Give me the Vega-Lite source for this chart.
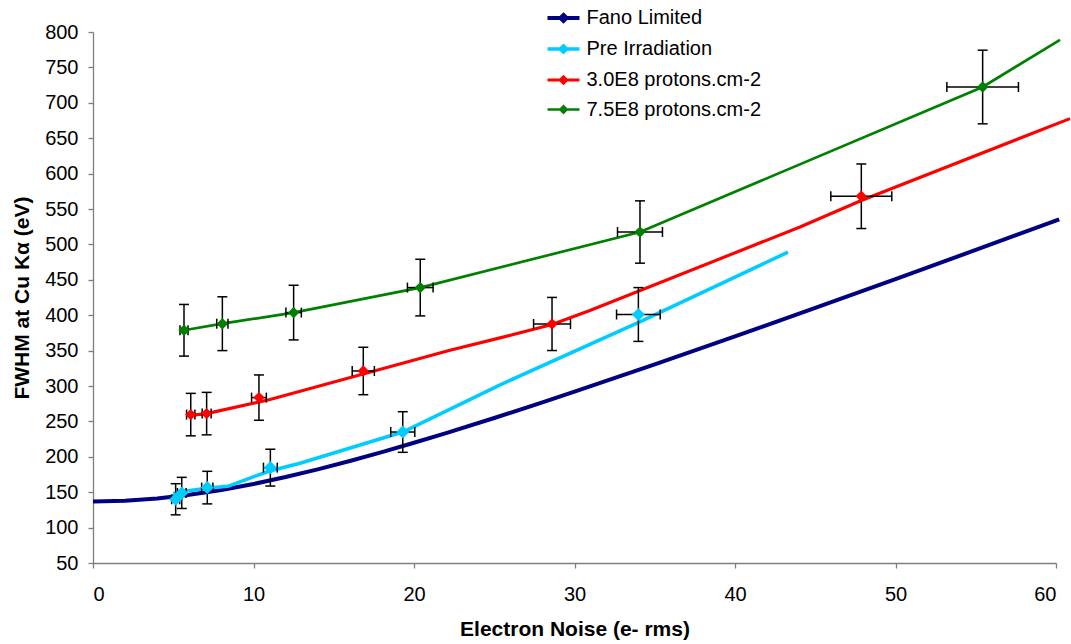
{
  "$schema": "https://vega.github.io/schema/vega-lite/v6.json",
  "width": 963,
  "height": 531,
  "autosize": {"type": "none"},
  "padding": {"left": 93, "top": 32, "right": 15, "bottom": 81},
  "background": "white",
  "config": {
    "view": {"stroke": null},
    "font": "Liberation Sans",
    "axis": {
      "labelFont": "Liberation Sans",
      "labelFontSize": 20,
      "labelColor": "black",
      "titleFont": "Liberation Sans",
      "titleFontSize": 21,
      "titleFontWeight": "bold",
      "titleColor": "black",
      "domainColor": "#7f7f7f",
      "tickColor": "#7f7f7f",
      "domainWidth": 1.3,
      "tickWidth": 1.3,
      "tickSize": 5,
      "grid": false
    }
  },
  "datasets": {
    "lines": [
      {"series": "Fano Limited", "x": 0, "y": 136.9},
      {"series": "Fano Limited", "x": 2, "y": 138.0},
      {"series": "Fano Limited", "x": 4, "y": 141.1},
      {"series": "Fano Limited", "x": 6, "y": 146.3},
      {"series": "Fano Limited", "x": 8, "y": 153.2},
      {"series": "Fano Limited", "x": 10, "y": 161.6},
      {"series": "Fano Limited", "x": 12, "y": 171.4},
      {"series": "Fano Limited", "x": 14, "y": 182.3},
      {"series": "Fano Limited", "x": 16, "y": 194.0},
      {"series": "Fano Limited", "x": 18, "y": 206.6},
      {"series": "Fano Limited", "x": 20, "y": 219.8},
      {"series": "Fano Limited", "x": 22, "y": 233.5},
      {"series": "Fano Limited", "x": 25, "y": 254.8},
      {"series": "Fano Limited", "x": 28, "y": 276.9},
      {"series": "Fano Limited", "x": 30, "y": 292.0},
      {"series": "Fano Limited", "x": 35, "y": 330.5},
      {"series": "Fano Limited", "x": 40, "y": 370.1},
      {"series": "Fano Limited", "x": 45, "y": 410.3},
      {"series": "Fano Limited", "x": 50, "y": 451.1},
      {"series": "Fano Limited", "x": 55, "y": 492.2},
      {"series": "Fano Limited", "x": 60.2, "y": 535.5},
      {"series": "Pre Irradiation", "x": 5.0, "y": 148},
      {"series": "Pre Irradiation", "x": 5.6, "y": 151},
      {"series": "Pre Irradiation", "x": 7.2, "y": 156},
      {"series": "Pre Irradiation", "x": 8.4, "y": 158.3},
      {"series": "Pre Irradiation", "x": 11.0, "y": 180},
      {"series": "Pre Irradiation", "x": 12.9, "y": 191},
      {"series": "Pre Irradiation", "x": 19.3, "y": 235},
      {"series": "Pre Irradiation", "x": 25.4, "y": 302},
      {"series": "Pre Irradiation", "x": 34.0, "y": 390},
      {"series": "Pre Irradiation", "x": 43.3, "y": 489},
      {"series": "3.0E8 protons.cm-2", "x": 6.04, "y": 258.5},
      {"series": "3.0E8 protons.cm-2", "x": 7.08, "y": 261},
      {"series": "3.0E8 protons.cm-2", "x": 11.03, "y": 281},
      {"series": "3.0E8 protons.cm-2", "x": 22.24, "y": 350.4},
      {"series": "3.0E8 protons.cm-2", "x": 25.36, "y": 368},
      {"series": "3.0E8 protons.cm-2", "x": 28.6, "y": 387},
      {"series": "3.0E8 protons.cm-2", "x": 31.0, "y": 407},
      {"series": "3.0E8 protons.cm-2", "x": 44.05, "y": 524.6},
      {"series": "3.0E8 protons.cm-2", "x": 47.87, "y": 562},
      {"series": "3.0E8 protons.cm-2", "x": 60.87, "y": 677.7},
      {"series": "7.5E8 protons.cm-2", "x": 5.67, "y": 378.7},
      {"series": "7.5E8 protons.cm-2", "x": 8.06, "y": 388},
      {"series": "7.5E8 protons.cm-2", "x": 12.5, "y": 403.7},
      {"series": "7.5E8 protons.cm-2", "x": 20.39, "y": 439},
      {"series": "7.5E8 protons.cm-2", "x": 34.08, "y": 517.5},
      {"series": "7.5E8 protons.cm-2", "x": 55.43, "y": 722.3},
      {"series": "7.5E8 protons.cm-2", "x": 60.25, "y": 789}
    ],
    "pts": [
      {"series": "Pre Irradiation", "x": 5.15, "y": 140, "xlo": 4.90, "xhi": 5.40, "ylo": 118, "yhi": 162},
      {"series": "Pre Irradiation", "x": 5.53, "y": 149, "xlo": 5.26, "xhi": 5.80, "ylo": 127, "yhi": 171},
      {"series": "Pre Irradiation", "x": 7.12, "y": 156.5, "xlo": 6.77, "xhi": 7.47, "ylo": 133.5, "yhi": 179.5},
      {"series": "Pre Irradiation", "x": 11.05, "y": 184.7, "xlo": 10.62, "xhi": 11.48, "ylo": 158.7, "yhi": 210.7},
      {"series": "Pre Irradiation", "x": 19.3, "y": 235, "xlo": 18.55, "xhi": 20.05, "ylo": 206.3, "yhi": 263.7},
      {"series": "Pre Irradiation", "x": 33.98, "y": 401, "xlo": 32.62, "xhi": 35.34, "ylo": 363, "yhi": 439},
      {"series": "3.0E8 protons.cm-2", "x": 6.09, "y": 259.6, "xlo": 5.83, "xhi": 6.35, "ylo": 229.6, "yhi": 289.6},
      {"series": "3.0E8 protons.cm-2", "x": 7.08, "y": 261, "xlo": 6.80, "xhi": 7.36, "ylo": 231, "yhi": 291},
      {"series": "3.0E8 protons.cm-2", "x": 10.34, "y": 283.6, "xlo": 9.88, "xhi": 10.80, "ylo": 251.6, "yhi": 315.6},
      {"series": "3.0E8 protons.cm-2", "x": 16.84, "y": 321.2, "xlo": 16.15, "xhi": 17.53, "ylo": 287.7, "yhi": 354.7},
      {"series": "3.0E8 protons.cm-2", "x": 28.6, "y": 387.6, "xlo": 27.45, "xhi": 29.75, "ylo": 350.1, "yhi": 425.1},
      {"series": "3.0E8 protons.cm-2", "x": 47.87, "y": 568, "xlo": 45.97, "xhi": 49.77, "ylo": 522.4, "yhi": 613.6},
      {"series": "7.5E8 protons.cm-2", "x": 5.67, "y": 378.7, "xlo": 5.42, "xhi": 5.92, "ylo": 342.2, "yhi": 415.2},
      {"series": "7.5E8 protons.cm-2", "x": 8.06, "y": 388, "xlo": 7.71, "xhi": 8.41, "ylo": 350, "yhi": 426},
      {"series": "7.5E8 protons.cm-2", "x": 12.5, "y": 403.7, "xlo": 12.02, "xhi": 12.98, "ylo": 365.1, "yhi": 442.3},
      {"series": "7.5E8 protons.cm-2", "x": 20.39, "y": 439, "xlo": 19.59, "xhi": 21.19, "ylo": 399, "yhi": 479},
      {"series": "7.5E8 protons.cm-2", "x": 34.08, "y": 517.5, "xlo": 32.68, "xhi": 35.48, "ylo": 473.5, "yhi": 561.5},
      {"series": "7.5E8 protons.cm-2", "x": 55.43, "y": 722.3, "xlo": 53.2, "xhi": 57.66, "ylo": 670.3, "yhi": 774.3}
    ]
  },
  "layer": [
    {
      "data": {"name": "lines"},
      "mark": {"type": "line", "interpolate": "linear"},
      "encoding": {
        "x": {"field": "x", "type": "quantitative", "title": "Electron Noise (e- rms)",
              "scale": {"domain": [0, 60], "nice": false, "zero": false},
              "axis": {"values": [0, 10, 20, 30, 40, 50, 60], "tickCount": 20, "labelPadding": 16, "titlePadding": 14, "labelOverlap": false}},
        "y": {"field": "y", "type": "quantitative", "title": "FWHM at Cu Kα (eV)",
              "scale": {"domain": [50, 800], "nice": false, "zero": false},
              "axis": {"values": [50, 100, 150, 200, 250, 300, 350, 400, 450, 500, 550, 600, 650, 700, 750, 800], "tickCount": 30, "labelPadding": 10, "titlePadding": 12, "labelOverlap": false}},
        "color": {"field": "series", "type": "nominal",
                  "scale": {"domain": ["Fano Limited", "Pre Irradiation", "3.0E8 protons.cm-2", "7.5E8 protons.cm-2"], "range": ["#000080", "#00CCFF", "#FF0000", "#008000"]},
                  "legend": {"orient": "none", "legendX": 458.5, "legendY": -26, "title": null, "labelFont": "Liberation Sans", "labelFontSize": 20, "labelColor": "black", "labelLimit": 400, "labelOffset": 11, "rowPadding": 8, "symbolType": "M-1.6,0H1.6M0,-0.3L0.3,0L0,0.3L-0.3,0Z", "symbolSize": 400, "symbolStrokeWidth": 3}},
        "strokeWidth": {"field": "series", "type": "nominal",
                  "scale": {"domain": ["Fano Limited", "Pre Irradiation", "3.0E8 protons.cm-2", "7.5E8 protons.cm-2"], "range": [4, 2.7, 2.3, 3.3]},
                  "legend": null}
      }
    },
    {
      "data": {"name": "pts"},
      "mark": {"type": "rule", "color": "black", "strokeWidth": 1.5},
      "encoding": {
        "x": {"field": "x", "type": "quantitative", "title": "Electron Noise (e- rms)"},
        "y": {"field": "ylo", "type": "quantitative", "title": "FWHM at Cu Kα (eV)"},
        "y2": {"field": "yhi"}
      }
    },
    {
      "data": {"name": "pts"},
      "mark": {"type": "rule", "color": "black", "strokeWidth": 1.5},
      "encoding": {
        "y": {"field": "y", "type": "quantitative", "title": "FWHM at Cu Kα (eV)"},
        "x": {"field": "xlo", "type": "quantitative", "title": "Electron Noise (e- rms)"},
        "x2": {"field": "xhi"}
      }
    },
    {
      "data": {"name": "pts"},
      "mark": {"type": "tick", "orient": "horizontal", "size": 10, "thickness": 1.5, "color": "black", "opacity": 1},
      "encoding": {
        "x": {"field": "x", "type": "quantitative", "title": "Electron Noise (e- rms)"},
        "y": {"field": "ylo", "type": "quantitative", "title": "FWHM at Cu Kα (eV)"}
      }
    },
    {
      "data": {"name": "pts"},
      "mark": {"type": "tick", "orient": "horizontal", "size": 10, "thickness": 1.5, "color": "black", "opacity": 1},
      "encoding": {
        "x": {"field": "x", "type": "quantitative", "title": "Electron Noise (e- rms)"},
        "y": {"field": "yhi", "type": "quantitative", "title": "FWHM at Cu Kα (eV)"}
      }
    },
    {
      "data": {"name": "pts"},
      "mark": {"type": "tick", "orient": "vertical", "size": 10, "thickness": 1.5, "color": "black", "opacity": 1},
      "encoding": {
        "x": {"field": "xlo", "type": "quantitative", "title": "Electron Noise (e- rms)"},
        "y": {"field": "y", "type": "quantitative", "title": "FWHM at Cu Kα (eV)"}
      }
    },
    {
      "data": {"name": "pts"},
      "mark": {"type": "tick", "orient": "vertical", "size": 10, "thickness": 1.5, "color": "black", "opacity": 1},
      "encoding": {
        "x": {"field": "xhi", "type": "quantitative", "title": "Electron Noise (e- rms)"},
        "y": {"field": "y", "type": "quantitative", "title": "FWHM at Cu Kα (eV)"}
      }
    },
    {
      "data": {"name": "pts"},
      "mark": {"type": "point", "shape": "diamond", "filled": true, "opacity": 1, "strokeWidth": 0},
      "encoding": {
        "x": {"field": "x", "type": "quantitative", "title": "Electron Noise (e- rms)"},
        "y": {"field": "y", "type": "quantitative", "title": "FWHM at Cu Kα (eV)"},
        "color": {"field": "series", "type": "nominal", "legend": null},
        "size": {"condition": {"test": "datum.series === 'Pre Irradiation'", "value": 170}, "value": 130}
      }
    }
  ]
}
